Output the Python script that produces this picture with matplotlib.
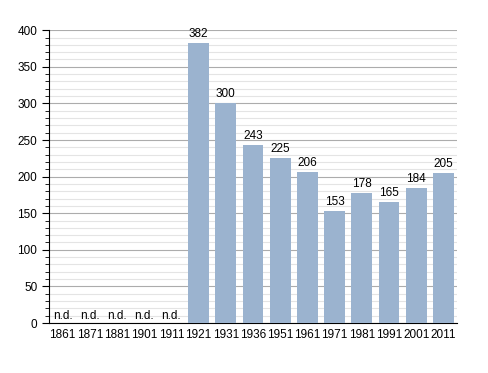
import numpy as np
import matplotlib
matplotlib.use('Agg')
import matplotlib.pyplot as plt
from matplotlib.ticker import MultipleLocator

plt.rcParams['font.family'] = ['Liberation Sans', 'DejaVu Sans']

years = ['1861', '1871', '1881', '1901', '1911', '1921', '1931', '1936',
         '1951', '1961', '1971', '1981', '1991', '2001', '2011']
# None means no data (n.d.)
population = [None, None, None, None, None, 382, 300, 243,
              225, 206, 153, 178, 165, 184, 205]

fig = plt.figure(figsize=(4.88, 3.73), dpi=100)
ax = fig.add_axes([0.1005, 0.134, 0.836, 0.785])

x = np.arange(len(years))
heights = [v if v is not None else 0 for v in population]
ax.bar(x, heights, width=0.77, color='#9bb3cf', zorder=3)

for xi, v in zip(x, population):
  if v is None:
    ax.text(xi, 2, 'n.d.', ha='center', va='bottom', fontsize=8.5, zorder=4)
  else:
    ax.text(xi, v + 4, str(v), ha='center', va='bottom', fontsize=8.5, zorder=4)

ax.set_xlim(-0.5, len(years) - 0.5)
ax.set_ylim(0, 400)
ax.set_xticks(x)
ax.set_xticklabels(years, fontsize=8.5)
ax.tick_params(axis='x', length=0, pad=4)
ax.yaxis.set_major_locator(MultipleLocator(50))
ax.yaxis.set_minor_locator(MultipleLocator(10))
ax.tick_params(axis='y', which='major', length=5, labelsize=8.5)
ax.tick_params(axis='y', which='minor', length=3)
ax.grid(axis='y', which='major', color='#acacac', linewidth=0.8, zorder=0)
ax.grid(axis='y', which='minor', color='#e4e4e4', linewidth=0.8, zorder=0)
for s in ['top', 'right']:
  ax.spines[s].set_visible(False)

fig.savefig('out.png', dpi=100)
